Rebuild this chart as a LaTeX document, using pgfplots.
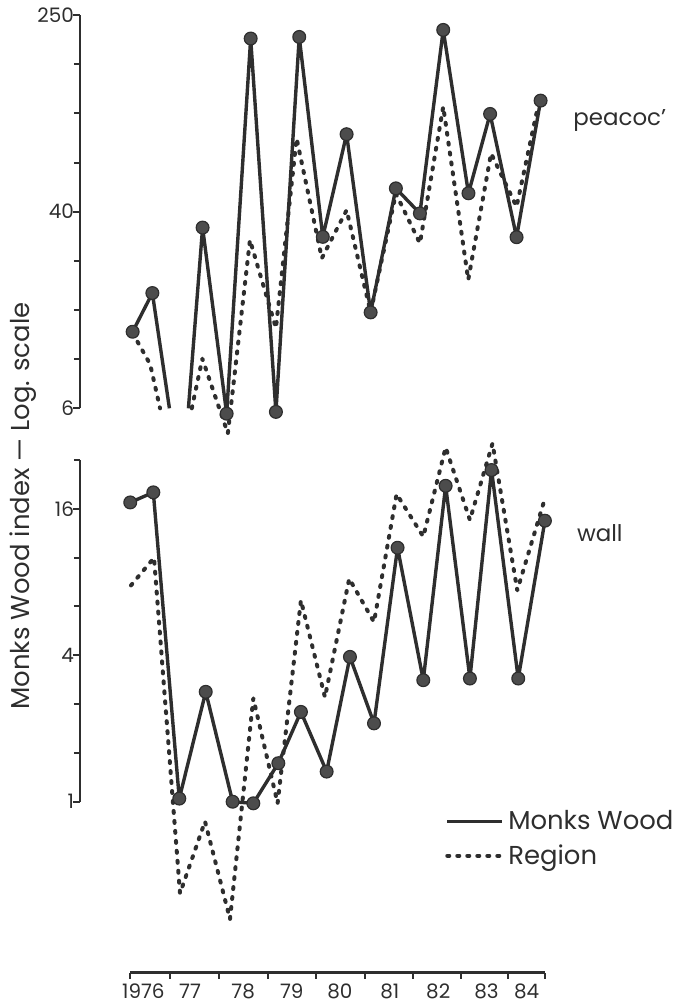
\documentclass[border=0pt]{standalone}
\usepackage{fontspec}
\setmainfont{Poppins}
\usepackage{pgfplots}
\pgfplotsset{compat=1.18}

\definecolor{ink}{gray}{0.18}
\definecolor{dotfill}{gray}{0.3}

\pgfplotsset{
  panel/.style={scale only axis, clip=false, width=232.7bp,
    xmin=-2.16, xmax=17.2, axis x line=none, axis y line*=left,
    xtick=\empty, tick align=outside, major tick length=3.5bp, minor tick length=3bp,
    every tick/.style={ink, line width=1bp},
    axis line style={ink, line width=1.3bp},
    yticklabel style={font=\fontsize{10}{12}\selectfont, text=ink, xshift=4bp},
    unbounded coords=jump},
  mw/.style={ink, line width=1.7bp, line join=round, mark=*, mark size=3.2bp,
    mark options={fill=dotfill, draw=ink, line width=0.6bp, solid}},
  rg/.style={ink, line width=2bp, line cap=round, line join=round,
    dash pattern=on 1bp off 4bp},
}

\begin{document}
\begin{tikzpicture}
\path[use as bounding box] (0,0) rectangle (337.5bp,-504bp);

% peacock
\begin{axis}[ymode=log, panel, at={(40bp,-204.15bp)}, anchor=south west, height=196.65bp,
  ymin=6, ymax=250,
  ytick={6,38.73,250}, yticklabels={6,40,250},
  minor ytick={9.56,15.24,24.3,61.7,98.4,156.8}]
\addplot[rg] coordinates {(0.03,12.25) (0.76,9.1) (1.17,6)};
\addplot[rg] coordinates {(2.49,6) (2.93,9.6) (3.99,4.73) (4.91,29.6) (5.99,12.85)
  (6.85,77.6) (7.9,24.9) (8.93,39.3) (9.93,14.9) (10.98,46) (11.98,28.7)
  (12.95,104.8) (13.99,20.3) (14.94,67.3) (16.0,40.6) (16.89,105)};
\addplot[mw, mark indices={1,2}] coordinates {(0.03,12.4) (0.85,17.9) (1.56,6)};
\addplot[mw, mark indices={2,3,4,5,6,7,8,9,10,11,12,13,14,15,16}] coordinates {(2.35,6)
  (2.94,33.3) (3.94,5.7) (4.94,200) (5.99,5.8) (6.96,203) (7.94,30.5) (8.93,80.7)
  (9.93,14.9) (10.98,48.3) (11.98,38.1) (12.95,217) (14.0,46.1) (14.9,97.8)
  (16.0,30.4) (17.0,111)};
\end{axis}

% wall
\begin{axis}[ymode=log, panel, at={(40bp,-400.85bp)}, anchor=south west, height=170.85bp,
  ymin=1, ymax=25.4,
  ytick={1,4,16}, yticklabels={1,4,16},
  minor ytick={1.587,2.52,6.35,10.08,25.4},
  legend image code/.code={\draw[#1] (0bp,0bp) -- (27.5bp,0bp);},
  reverse legend, legend cell align=left,
  legend style={draw=none, fill=none, at={(0.784,-0.012)}, anchor=north west,
    inner sep=0pt, font=\fontsize{13}{15}\selectfont, text=ink, row sep=2bp}]
\addplot[rg] coordinates {(-0.04,7.75) (0.92,10.07) (2.0,0.42) (3.04,0.83) (4.08,0.329)
  (5.05,2.66) (6.06,0.985) (7.03,6.73) (8.03,2.69) (9.04,8.26) (10.07,5.48)
  (11.01,18.4) (12.12,12.3) (13.05,28.6) (14.06,14.4) (15.0,29.7) (16.03,7.4)
  (17.13,17.0)};
\addlegendentry{Region}
\addplot[mw] coordinates {(-0.07,17.0) (0.89,18.7) (1.97,1.03) (3.07,2.83) (4.19,1.0)
  (5.05,0.985) (6.09,1.44) (7.03,2.34) (8.1,1.33) (9.07,3.94) (10.07,2.10)
  (11.05,11.07) (12.12,3.16) (13.05,19.9) (14.06,3.21) (14.96,23.1) (16.07,3.21)
  (17.18,14.3)};
\addlegendentry{Monks Wood}
\end{axis}

% years
\begin{axis}[scale only axis, at={(65bp,-486.35bp)}, anchor=south west,
  width=207.5bp, height=1bp, xmin=-0.077, xmax=17.18, ymin=0, ymax=1,
  axis x line*=bottom, axis y line=none,
  axis line style={ink, line width=1.3bp},
  xtick={0.48,2.42,4.63,6.65,8.65,10.73,12.74,14.75,16.42},
  xticklabels={1976,77,78,79,80,81,82,83,84},
  minor xtick={-0.07,1.59,3.64,5.67,7.66,9.7,11.7,13.7,15.65,17.17},
  major tick length=0pt, minor tick length=3bp, tick align=outside,
  every tick/.style={ink, line width=1bp},
  xticklabel style={font=\fontsize{10}{12}\selectfont, text=ink, yshift=-2bp}]
\end{axis}

\node[rotate=90, font=\fontsize{13}{15}\selectfont, text=ink] at (11.5bp,-253bp)
  {Monks Wood index — Log. scale};
\node[anchor=west, inner sep=0pt, font=\fontsize{11.5}{14}\selectfont, text=ink]
  at (286.5bp,-60bp) {peacoc’};
\node[anchor=west, inner sep=0pt, font=\fontsize{11.5}{14}\selectfont, text=ink]
  at (288.3bp,-266.5bp) {wall};
\end{tikzpicture}
\end{document}
